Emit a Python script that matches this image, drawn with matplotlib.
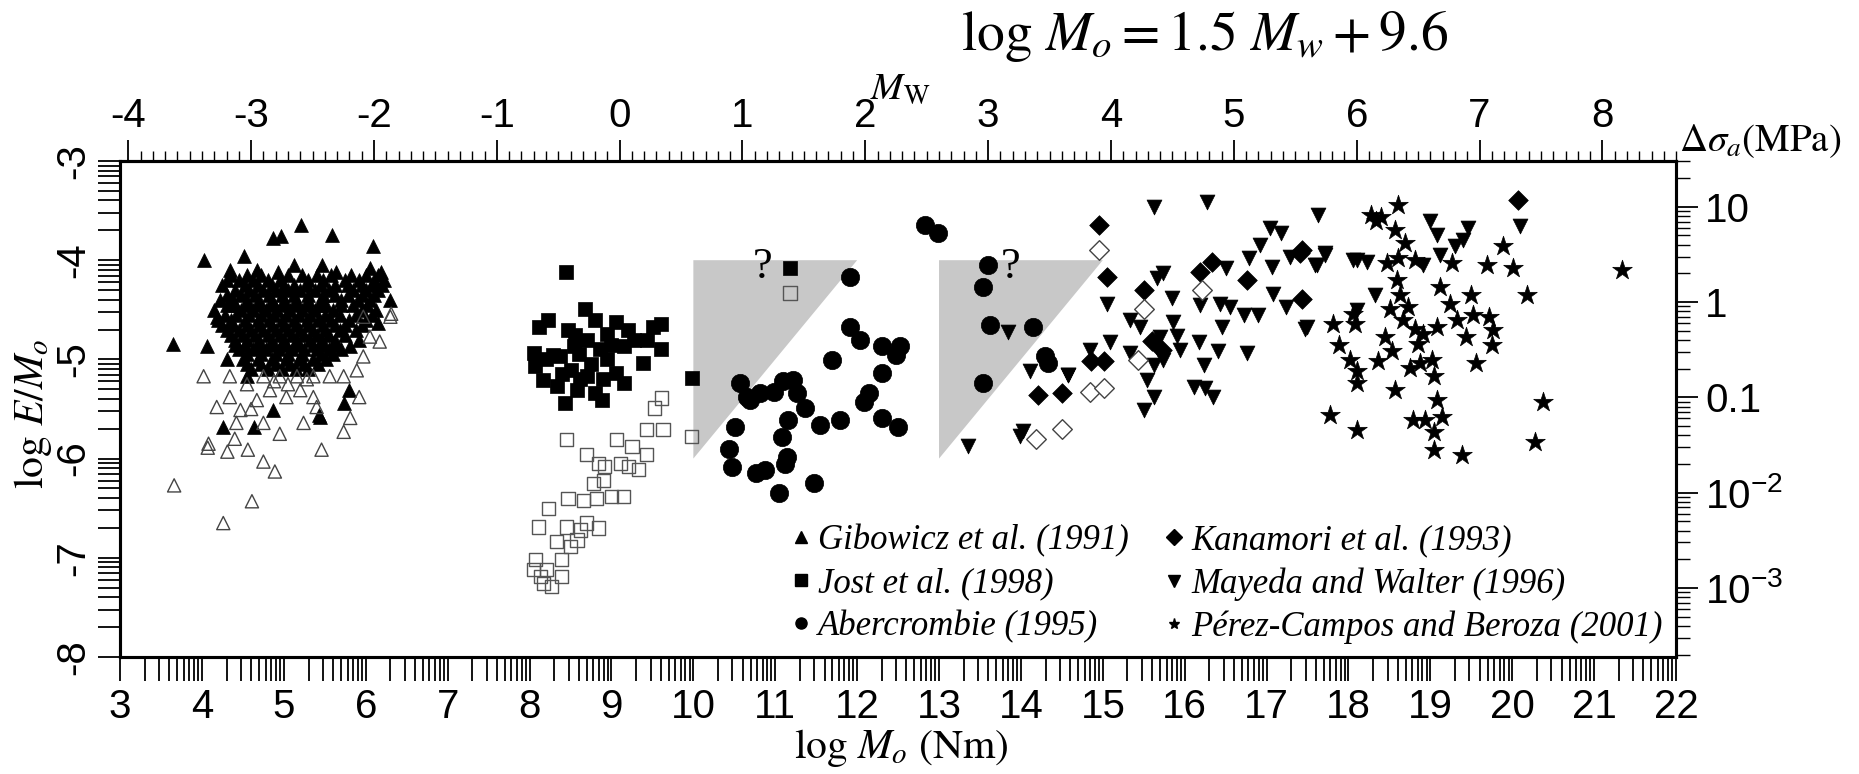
import matplotlib.pyplot as plt
from matplotlib.lines import Line2D
from matplotlib.ticker import FixedLocator, MultipleLocator, NullFormatter
from matplotlib.font_manager import FontProperties
import numpy as np

# -----------------------------------------------------------------------------------------
# data  (x = log Mo [Nm], y = log E/Mo)

# Gibowicz et al. (1991), filled and open triangles
gib_x = [3.64, 4.02, 4.51, 4.87, 4.97, 5.21, 5.59, 6.09, 5.12, 5.46, 4.93, 4.34, 4.67, 5.64,
         6.05, 6.18, 6.30, 6.15, 4.06, 4.18, 4.30, 4.55, 5.79, 5.73, 5.44, 4.87, 4.26, 4.63,
         5.81, 5.43,
         4.30, 4.45, 4.62, 4.80, 4.95, 5.30, 5.48, 5.75, 5.92, 6.10, 6.22,
         4.35, 4.55, 4.72, 5.05, 5.22, 5.40, 5.58, 5.82, 6.00, 6.15,
         4.25, 4.52, 4.68, 4.85, 5.00, 5.12, 5.28, 5.45, 5.62, 5.78, 5.95, 6.08, 6.20,
         4.40, 4.58, 4.75, 4.90, 5.05, 5.20, 5.38, 5.55, 5.85, 6.00, 6.15,
         4.30, 4.48, 4.65, 4.82, 4.98, 5.12, 5.30, 5.48, 5.62, 5.78, 5.95, 6.10,
         4.22, 4.38, 4.55, 4.70, 4.85, 5.00, 5.15, 5.30, 5.45, 5.70, 5.90, 6.05,
         4.30, 4.40, 4.55, 4.70, 4.85, 5.00, 5.15, 5.30, 5.45, 5.52, 5.70, 5.85, 6.02,
         4.15, 4.48, 4.62, 4.78, 4.92, 5.08, 5.22, 5.38, 5.60, 5.95, 6.12,
         4.28, 4.42, 4.58, 4.72, 4.88, 5.02, 5.18, 5.32, 5.50, 5.68, 5.88, 6.08,
         4.20, 4.35, 4.52, 4.68, 4.82, 4.98, 5.12, 5.28, 5.42, 5.58, 5.80, 6.00,
         4.25, 4.38, 4.55, 4.70, 4.85, 5.00, 5.15, 5.30, 5.48, 5.62, 5.75, 5.95,
         4.30, 4.45, 4.60, 4.75, 4.90, 5.05, 5.20, 5.35, 5.50, 5.68, 5.88,
         4.35, 4.50, 4.65, 4.80, 4.95, 5.10, 5.25, 5.40, 5.55, 5.75,
         4.40, 4.55, 4.70, 4.86, 5.00, 5.16, 5.32, 5.46, 5.62, 5.92,
         4.40, 4.52, 4.70, 4.85, 5.02, 5.18, 5.35, 5.48, 5.62,
         4.45, 4.62, 4.78, 4.94, 5.10, 5.25, 5.40, 5.55, 5.70,
         4.55, 4.72, 4.90, 5.05, 5.22, 5.45, 5.60,
         4.50, 4.68, 4.85, 5.02, 5.18, 5.35, 5.52,
         4.55, 4.72, 4.90, 5.08, 5.25, 5.42,
         4.60, 4.80, 4.98, 5.15, 5.30]
gib_y = [-4.84, -4.00, -3.96, -3.78, -3.76, -3.65, -3.75, -3.86, -4.05, -4.05, -4.12, -4.10, -4.10, -4.12,
         -4.08, -4.12, -4.40, -4.63, -4.87, -4.57, -5.00, -5.17, -5.31, -5.44, -5.58, -5.51, -5.68, -5.68,
         -4.87, -5.56,
         -4.20, -4.20, -4.20, -4.20, -4.20, -4.20, -4.20, -4.20, -4.20, -4.20, -4.20,
         -4.15, -4.15, -4.15, -4.15, -4.15, -4.15, -4.15, -4.15, -4.15, -4.15,
         -4.25, -4.25, -4.25, -4.25, -4.25, -4.25, -4.25, -4.25, -4.25, -4.25, -4.25, -4.25, -4.25,
         -4.30, -4.30, -4.30, -4.30, -4.30, -4.30, -4.30, -4.30, -4.30, -4.30, -4.30,
         -4.35, -4.35, -4.35, -4.35, -4.35, -4.35, -4.35, -4.35, -4.35, -4.35, -4.35, -4.35,
         -4.40, -4.40, -4.40, -4.40, -4.40, -4.40, -4.40, -4.40, -4.40, -4.40, -4.40, -4.40,
         -4.45, -4.45, -4.45, -4.45, -4.45, -4.45, -4.45, -4.45, -4.45, -4.45, -4.45, -4.45, -4.45,
         -4.50, -4.50, -4.50, -4.50, -4.50, -4.50, -4.50, -4.50, -4.50, -4.50, -4.50,
         -4.55, -4.55, -4.55, -4.55, -4.55, -4.55, -4.55, -4.55, -4.55, -4.55, -4.55, -4.55,
         -4.60, -4.60, -4.60, -4.60, -4.60, -4.60, -4.60, -4.60, -4.60, -4.60, -4.60, -4.60,
         -4.65, -4.65, -4.65, -4.65, -4.65, -4.65, -4.65, -4.65, -4.65, -4.65, -4.65, -4.65,
         -4.70, -4.70, -4.70, -4.70, -4.70, -4.70, -4.70, -4.70, -4.70, -4.70, -4.70,
         -4.75, -4.75, -4.75, -4.75, -4.75, -4.75, -4.75, -4.75, -4.75, -4.75,
         -4.80, -4.80, -4.80, -4.80, -4.80, -4.80, -4.80, -4.80, -4.80, -4.80,
         -4.85, -4.85, -4.85, -4.85, -4.85, -4.85, -4.85, -4.85, -4.85,
         -4.90, -4.90, -4.90, -4.90, -4.90, -4.90, -4.90, -4.90, -4.90,
         -4.95, -4.95, -4.95, -4.95, -4.95, -4.95, -4.95,
         -5.00, -5.00, -5.00, -5.00, -5.00, -5.00, -5.00,
         -5.05, -5.05, -5.05, -5.05, -5.05, -5.05,
         -5.10, -5.10, -5.10, -5.10, -5.10]
gib_open_x = [3.66, 4.26, 4.61, 4.07, 4.31, 4.56, 4.75, 4.89, 5.46, 5.73, 5.81, 4.02, 4.34, 6.17,
              6.30, 5.89, 4.08, 4.18, 4.34, 4.47, 4.67, 4.83, 5.03, 5.20, 5.36, 5.56, 5.73, 5.97,
              6.05, 5.97, 4.42, 4.75, 5.24, 5.40, 4.95, 5.16, 5.36, 4.75, 4.55, 4.88, 5.05, 5.28,
              4.60, 5.92, 6.31, 4.40, 4.95]
gib_open_y = [-6.27, -6.65, -6.43, -5.89, -5.93, -5.91, -6.03, -6.13, -5.91, -5.73, -5.59, -5.17, -5.17, -4.82,
              -4.57, -5.11, -5.85, -5.48, -5.38, -5.51, -5.41, -5.31, -5.38, -5.31, -5.38, -5.17, -5.17, -4.97,
              -4.77, -4.57, -5.64, -5.64, -5.64, -5.48, -5.17, -5.17, -5.17, -5.17, -5.25, -5.22, -5.25, -5.20,
              -5.50, -5.38, -4.54, -5.80, -5.75]

# Jost et al. (1998), filled and open squares
jost_x = [8.45, 8.68, 8.11, 8.23, 8.47, 8.80, 9.06, 9.61, 9.51, 9.43, 9.61, 8.05, 8.29, 8.54,
          8.70, 8.86, 9.15, 9.27, 9.39, 9.06, 9.15, 8.07, 8.17, 8.33, 8.43, 8.58, 8.70, 8.80,
          8.88, 8.50, 8.37, 8.94, 9.98, 11.18, 8.60, 8.75, 8.95, 9.00, 8.40, 8.62, 8.20, 8.90,
          8.55, 9.20]
jost_y = [-4.12, -4.49, -4.67, -4.60, -4.70, -4.60, -4.62, -4.64, -4.67, -4.80, -4.90, -4.94, -4.96, -4.87,
          -4.80, -4.90, -4.87, -4.80, -5.04, -5.14, -5.24, -5.07, -5.21, -5.27, -5.44, -5.31, -5.17, -5.34,
          -5.41, -5.11, -4.97, -4.74, -5.19, -4.08, -4.95, -5.05, -5.00, -4.85, -5.15, -5.20, -5.00, -5.20,
          -4.75, -4.70]
jost_open_x = [9.61, 9.53, 9.43, 9.63, 9.98, 8.45, 9.06, 9.25, 9.43, 8.70, 8.84, 8.92, 9.11, 9.21,
               9.33, 8.78, 8.90, 8.47, 8.66, 8.82, 9.00, 9.15, 8.23, 8.11, 8.45, 8.70, 8.84, 8.58,
               8.33, 8.50, 8.07, 8.05, 8.21, 8.39, 8.39, 8.17, 8.27, 8.13, 8.62, 11.18]
jost_open_y = [-5.39, -5.49, -5.71, -5.71, -5.78, -5.81, -5.81, -5.88, -5.96, -5.96, -6.05, -6.08, -6.05, -6.08,
               -6.11, -6.25, -6.22, -6.40, -6.42, -6.40, -6.38, -6.38, -6.50, -6.69, -6.69, -6.65, -6.70, -6.82,
               -6.84, -6.89, -7.02, -7.12, -7.12, -7.02, -7.19, -7.26, -7.29, -7.19, -6.72, -4.33]

# Abercrombie (1995), circles
aber_x = [11.91, 12.83, 12.99, 11.91, 12.04, 11.69, 12.30, 12.52, 12.48, 12.30, 12.14, 12.08, 12.30, 12.50,
          11.79, 11.55, 11.36, 11.26, 11.22, 11.10, 10.98, 10.81, 10.69, 10.57, 10.65, 11.16, 11.08, 10.51,
          10.43, 10.47, 10.77, 10.87, 11.04, 11.12, 11.14, 11.47, 13.60, 13.54, 13.62, 13.54, 14.15, 14.29,
          14.33]
aber_y = [-4.17, -3.65, -3.73, -4.67, -4.80, -5.01, -4.87, -4.87, -4.96, -5.14, -5.34, -5.43, -5.59, -5.68,
          -5.61, -5.66, -5.49, -5.34, -5.21, -5.22, -5.33, -5.34, -5.41, -5.24, -5.38, -5.61, -5.78, -5.68,
          -5.90, -6.08, -6.15, -6.12, -6.35, -6.05, -5.98, -6.25, -4.05, -4.27, -4.65, -5.24, -4.67, -4.97,
          -5.04]

# Kanamori et al. (1993), filled and open diamonds
kana_x = [14.95, 15.05, 15.50, 14.21, 14.50, 14.86, 15.01, 15.60, 16.33, 16.19, 17.43, 17.43, 16.76, 15.72,
          20.07, 17.41]
kana_y = [-3.65, -4.17, -4.30, -5.36, -5.34, -5.02, -5.02, -4.81, -4.02, -4.12, -3.90, -4.39, -4.20, -4.91,
          -3.39, -3.93]
kana_open_x = [14.95, 15.50, 14.84, 15.01, 14.50, 14.19, 16.21, 15.43]
kana_open_y = [-3.90, -4.49, -5.33, -5.29, -5.70, -5.80, -4.30, -5.01]

# Mayeda and Walter (1996), inverted triangles
maye_x = [15.62, 16.27, 17.63, 17.04, 17.18, 16.92, 16.78, 16.51, 15.74, 15.66, 15.84, 16.19, 16.43, 16.55,
          16.72, 16.90, 17.24, 17.08, 17.06, 17.29, 17.61, 17.71, 17.47, 16.45, 15.86, 16.17, 16.41, 16.76,
          16.23, 16.11, 16.25, 16.35, 15.50, 15.62, 15.54, 15.33, 15.09, 14.84, 14.58, 15.05, 15.90, 15.94,
          15.70, 15.62, 15.74, 15.33, 15.45, 18.06, 13.84, 13.35, 13.99, 14.03, 14.11, 14.58,
          18.99, 19.08, 19.46, 19.40, 19.30, 20.09, 18.10, 18.22, 17.71, 17.59, 19.12, 18.91, 18.32, 18.10,
          17.49]
maye_y = [-3.46, -3.41, -3.54, -3.68, -3.73, -3.85, -3.98, -4.08, -4.13, -4.18, -4.38, -4.45, -4.44, -4.47,
          -4.55, -4.55, -4.47, -4.34, -4.07, -3.97, -4.05, -3.95, -4.69, -4.67, -4.62, -4.82, -4.92, -4.94,
          -5.06, -5.28, -5.29, -5.38, -5.51, -5.38, -5.21, -4.94, -4.82, -4.91, -5.16, -4.44, -4.76, -4.91,
          -4.77, -5.06, -5.01, -4.60, -4.67, -4.00, -4.72, -5.87, -5.77, -5.72, -5.12, -5.16,
          -3.60, -3.75, -3.68, -3.80, -3.86, -3.66, -4.00, -4.02, -3.93, -4.05, -3.95, -4.05, -4.35, -4.50,
          -4.67]

# Perez-Campos and Beroza (2001), stars
pere_x = [18.61, 18.28, 18.34, 18.40, 18.57, 18.69, 18.61, 18.47, 18.81, 19.26, 19.69, 19.89, 20.01, 21.34,
          20.18, 19.50, 19.12, 18.59, 18.63, 18.73, 18.51, 18.06, 17.81, 18.08, 18.67, 18.81, 18.91, 19.08,
          19.24, 19.32, 19.44, 19.52, 19.71, 19.77, 19.75, 17.88, 18.45, 18.53, 18.36, 18.85, 18.02, 18.10,
          18.10, 18.75, 18.87, 19.02, 19.04, 19.56, 18.57, 19.08, 19.14, 18.79, 18.93, 19.04, 19.04, 19.38,
          17.77, 18.10, 20.38, 20.28]
pere_y = [-3.44, -3.54, -3.60, -3.56, -3.70, -3.83, -3.98, -4.03, -4.00, -4.03, -4.05, -3.86, -4.08, -4.10,
          -4.35, -4.35, -4.27, -4.20, -4.35, -4.47, -4.49, -4.54, -4.64, -4.64, -4.60, -4.69, -4.74, -4.67,
          -4.44, -4.60, -4.77, -4.55, -4.57, -4.70, -4.86, -4.86, -4.77, -4.92, -5.02, -4.84, -5.01, -5.12,
          -5.24, -5.09, -5.04, -5.01, -5.17, -5.04, -5.31, -5.41, -5.58, -5.61, -5.61, -5.73, -5.91, -5.96,
          -5.56, -5.71, -5.43, -5.83]

# grey wedges and question marks
shade_x = [[10, 12, 10], [13, 15, 13]]
shade_y = [[-4, -4, -6], [-4, -4, -6]]
quest_x = [10.85, 13.87]
quest_y = [-4.07, -4.07]

legend_labels = ['Gibowicz et al. (1991)', 'Jost et al. (1998)', 'Abercrombie (1995)',
                 'Kanamori et al. (1993)', 'Mayeda and Walter (1996)', 'Pérez-Campos and Beroza (2001)']
legend_markers = ['^', 's', 'o', 'D', 'v', '*']

x_ticks = list(range(3, 23))
y_ticks = list(range(-8, -2))
mw_ticks = list(range(-4, 9))
ds_ticks = [1e-3, 1e-2, 0.1, 1, 10]
ds_labels = [r'$\mathregular{10^{-3}}$', r'$\mathregular{10^{-2}}$', '0.1', '1', '10']

# -----------------------------------------------------------------------------------------
# style
plt.rcParams['axes.unicode_minus'] = False
plt.rcParams['mathtext.fontset'] = 'stix'
plt.rcParams['font.family'] = ['Liberation Sans', 'DejaVu Sans']
SERIF = ['Liberation Serif', 'DejaVu Serif']
TICK_SIZE = 29


##
# convert log Mo to Mw and back, for the top axis
##
def moToMw(x):
    return (np.asarray(x) - 9.1) / 1.5


def mwToMo(m):
    return 1.5 * np.asarray(m) + 9.1


fig = plt.figure(figsize=(18.59, 7.74), dpi=100)
ax = fig.add_axes([0.0646, 0.1512, 0.8370, 0.6408])

for sx, sy in zip(shade_x, shade_y):
    ax.fill(sx, sy, color='#c8c8c8', lw=0, zorder=1)

ax.scatter(gib_x, gib_y, marker='^', s=100, c='k', lw=0.5, zorder=3)
ax.scatter(gib_open_x, gib_open_y, marker='^', s=90, facecolors='none', edgecolors='#444444', lw=1.0, zorder=4)
ax.scatter(jost_x, jost_y, marker='s', s=90, c='k', lw=0.5, zorder=3)
ax.scatter(jost_open_x, jost_open_y, marker='s', s=90, facecolors='none', edgecolors='#555555', lw=1.0, zorder=3)
ax.scatter(aber_x, aber_y, marker='o', s=175, c='k', lw=0.5, zorder=3)
ax.scatter(maye_x, maye_y, marker='v', s=115, c='k', lw=0.5, zorder=3)
ax.scatter(kana_x, kana_y, marker='D', s=100, c='k', lw=0.5, zorder=4)
ax.scatter(kana_open_x, kana_open_y, marker='D', s=100, facecolors='white', edgecolors='#444444', lw=1.0, zorder=4)
ax.scatter(pere_x, pere_y, marker='*', s=220, c='k', lw=0.5, zorder=3)

for qx, qy in zip(quest_x, quest_y):
    ax.text(qx, qy, '?', family=SERIF, fontsize=32, ha='center', va='center', zorder=5)

# axes limits and ticks
ax.set_xlim(3, 22)
ax.set_ylim(-8, -3)
ax.set_xticks(x_ticks)
ax.set_yticks(y_ticks)
ax.xaxis.set_minor_locator(FixedLocator([n + np.log10(k) for n in range(3, 22) for k in range(2, 10)]))
ax.yaxis.set_minor_locator(FixedLocator([n + np.log10(k) for n in range(-8, -3) for k in range(2, 10)]))
ax.tick_params(axis='x', which='both', direction='out', length=17, width=1.3, labelsize=TICK_SIZE, pad=5,
               top=False)
ax.tick_params(axis='y', which='both', direction='out', length=16, width=1.3, labelsize=TICK_SIZE, pad=4,
               right=False, labelrotation=90)
for lab in ax.get_yticklabels():
    lab.set_va('center')
for sp in ax.spines.values():
    sp.set_linewidth(2.2)

# top axis: Mw
top = ax.secondary_xaxis('top', functions=(moToMw, mwToMo))
top.set_xticks(mw_ticks)
top.xaxis.set_minor_locator(MultipleLocator(0.1))
top.tick_params(which='major', direction='out', length=15, width=1.3, labelsize=TICK_SIZE, pad=4)
top.tick_params(which='minor', direction='out', length=7, width=1.0)
top.spines['top'].set_linewidth(2.2)

# right axis: apparent stress
ax2 = ax.twinx()
ax2.set_yscale('log')
ax2.set_ylim(10 ** -3.724, 10 ** 1.48)
ax2.set_yticks(ds_ticks)
ax2.set_yticklabels(ds_labels)
ax2.yaxis.set_minor_formatter(NullFormatter())
ax2.tick_params(which='major', direction='out', length=16, width=1.3, labelsize=TICK_SIZE, pad=5)
ax2.tick_params(which='minor', direction='out', length=10, width=1.0)
for sp in ax2.spines.values():
    sp.set_linewidth(2.2)

# labels
fig.text(0.648, 0.953, r'$\mathrm{log}\ M_o = 1.5\ M_w + 9.6$', fontsize=40, ha='center', va='center')
fig.text(0.484, 0.884, r'$M_{\mathrm{W}}$', fontsize=28, ha='center', va='center')
fig.text(0.903, 0.818, r'$\Delta\sigma_a\mathrm{(MPa)}$', fontsize=28, ha='left', va='center')
fig.text(0.018, 0.465, r'$\mathrm{log}\ E/M_o$', fontsize=30, ha='center', va='center', rotation=90)
fig.text(0.485, 0.033, r'$\mathrm{log}\ M_o\ \mathrm{(Nm)}$', fontsize=30, ha='center', va='center')

# legend
handles = [Line2D([], [], marker=m, color='k', ls='none', ms=8) for m in legend_markers]
leg = ax.legend(handles, legend_labels, ncol=2, loc='upper left', bbox_to_anchor=(0.4306, 0.268),
                frameon=False, borderpad=0, borderaxespad=0, handlelength=0.6, handletextpad=0.2,
                labelspacing=0.29, columnspacing=1.0,
                prop=FontProperties(family=SERIF, style='italic', size=25))

plt.savefig('out.png', dpi=100)
